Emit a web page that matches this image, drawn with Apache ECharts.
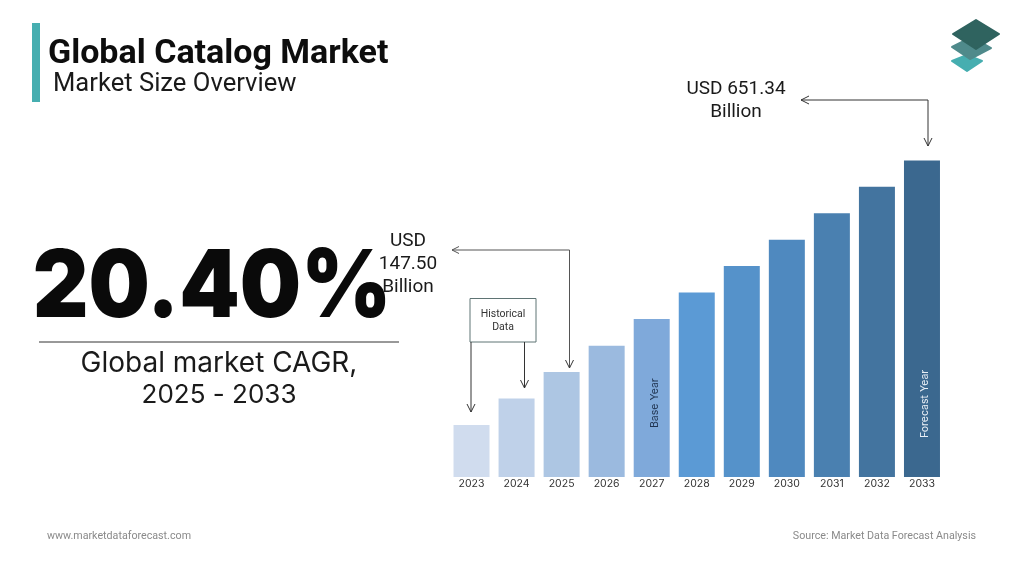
<!DOCTYPE html>
<html>
<head>
<meta charset="utf-8">
<style>
  html, body { margin: 0; padding: 0; background: #fff; }
  #chart { width: 1024px; height: 576px; }
</style>
<script src="https://cdn.jsdelivr.net/npm/echarts@6/dist/echarts.min.js"></script>
</head>
<body>
<div id="chart"></div>
<script>
const years = ["2023", "2024", "2025", "2026", "2027", "2028", "2029", "2030", "2031", "2032", "2033"];
// bar heights as % of the tallest bar, the picture draws them on no printed scale
const barHeights = [16.4, 24.8, 33.2, 41.5, 49.9, 58.3, 66.7, 75.0, 83.3, 91.7, 100];
const barColors = ["#d0dcee", "#bfd1e9", "#adc6e3", "#9bbadf", "#7fa9da", "#5b9ad5", "#5592ca", "#4f89bf", "#4a80b0", "#43749f", "#3b688f"];
const rotatedLabels = { 2027: ["Base Year", "#1f3350", 49], 2033: ["Forecast Year", "#e8eef5", 39] };

const text = (x, y, str, size, opts = {}) => ({
  type: "text",
  x, y,
  scaleY: opts.scaleY || 1,
  style: {
    text: str,
    fontSize: size,
    fontFamily: opts.font || "Roboto",
    fontWeight: opts.weight || 400,
    fill: opts.color || "#1a1a1a",
    align: opts.align || "center",
    verticalAlign: "middle",
  },
  z: 10,
});

const line = (points, color, width) => ({
  type: "polyline",
  shape: { points },
  style: { stroke: color, lineWidth: width || 1, fill: null },
  z: 5,
});

const diamond = (points, color) => ({
  type: "polygon",
  shape: { points },
  style: { fill: color, lineJoin: "round", stroke: color, lineWidth: 2 },
  z: 5,
});

const graphics = [
  { type: "rect", shape: { x: 32, y: 23, width: 8, height: 79 }, style: { fill: "#46aeb0" } },
  text(48, 54, "Global Catalog Market", 34, { align: "left", weight: 700, color: "#0d0d0d" }),
  text(53, 85, "Market Size Overview", 25.6, { align: "left" }),

  // logo
  diamond([[952, 61], [967, 55], [982, 61], [967, 71]], "#46aeb0"),
  diamond([[952, 47], [972, 37], [991, 48], [970, 59]], "#4f8a8b"),
  diamond([[953, 34], [976, 20], [999, 34], [976, 49]], "#2f635f"),

  // cagr block
  text(212, 289, "20.40%", 86.3, { font: "Inter", weight: 900, color: "#0a0a0a", scaleY: 1.09 }),
  line([[39, 342], [399, 342]], "#333333", 1),
  text(219, 364, "Global market CAGR,", 28, { font: "Inter" }),
  text(219, 395, "2025 - 2033", 26, { font: "Inter" }),

  // 2033 callout
  text(736, 89, "USD 651.34", 19),
  text(736, 112, "Billion", 19),
  line([[928, 146], [928, 100], [801, 100]], "#333333", 1),
  line([[809, 96], [801, 100], [809, 104]], "#333333", 1),
  line([[924, 138], [928, 146], [932, 138]], "#333333", 1),

  // 2025 callout
  text(408, 241, "USD", 19),
  text(408, 264, "147.50", 19),
  text(408, 287, "Billion", 19),
  line([[569.5, 368], [569.5, 250], [452, 250]], "#555555", 1),
  line([[459, 246.5], [452, 250], [459, 253.5]], "#555555", 1),
  line([[565.5, 360], [569.5, 368], [573.5, 360]], "#333333", 1),

  // historical box
  { type: "rect", shape: { x: 470, y: 298.5, width: 66, height: 43.5 }, style: { fill: "#fff", stroke: "#5f7474", lineWidth: 1 }, z: 5 },
  text(503, 314, "Historical", 10.5, { color: "#333333" }),
  text(503, 327, "Data", 10.5, { color: "#333333" }),
  line([[471, 342], [471, 412]], "#333333", 1),
  line([[467, 404], [471, 412], [475, 404]], "#333333", 1),
  line([[524.5, 342], [524.5, 388]], "#333333", 1),
  line([[520.5, 380], [524.5, 388], [528.5, 380]], "#333333", 1),

  // footer
  text(47, 536.5, "www.marketdataforecast.com", 10.7, { align: "left", color: "#8a8a8a" }),
  text(976, 536.5, "Source: Market Data Forecast Analysis", 10.7, { align: "right", color: "#8a8a8a" }),
];

const chart = echarts.init(document.getElementById("chart"));
chart.setOption({
  animation: false,
  backgroundColor: "#ffffff",
  grid: { left: 449, top: 160.5, width: 495.5, height: 316.5 },
  xAxis: {
    type: "category",
    data: years,
    axisLine: { show: false },
    axisTick: { show: false },
    axisLabel: { color: "#333333", fontSize: 10.5, fontFamily: "Inter", margin: 1, interval: 0 },
  },
  yAxis: { type: "value", min: 0, max: 100, show: false },
  series: [
    {
      type: "bar",
      barWidth: 36,
      data: barHeights.map((value, i) => {
        const item = { value, itemStyle: { color: barColors[i] } };
        const note = rotatedLabels[years[i]];
        if (note) {
          item.label = {
            show: true,
            formatter: note[0],
            color: note[1],
            fontSize: 10.5,
            fontFamily: "Inter",
            position: "insideBottom",
            distance: note[2],
            rotate: 90,
            align: "left",
            verticalAlign: "middle",
            offset: [0, 3],
          };
        }
        return item;
      }),
    },
  ],
  graphic: graphics,
});
</script>
</body>
</html>
